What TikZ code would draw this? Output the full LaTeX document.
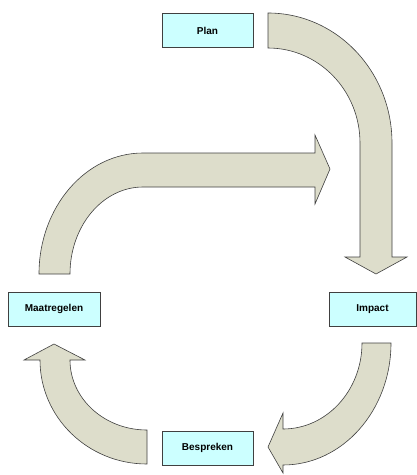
\documentclass[tikz,border=0pt]{standalone}
\usepackage{fontspec}
\setmainfont{Liberation Sans}
\definecolor{boxfill}{HTML}{CCFFFF}
\definecolor{arrowfill}{HTML}{DDDDCB}
\definecolor{edge}{HTML}{404040}
\begin{document}
\begin{tikzpicture}[x=1pt,y=-1pt,
  stagebox/.style={draw=edge,line width=0.7pt,fill=boxfill,minimum height=34pt,inner sep=0pt,font=\bfseries\fontsize{10}{12}\selectfont},
  bigarrow/.style={draw=edge,line width=0.6pt,fill=arrowfill,line join=miter}]
\useasboundingbox (0,0) rectangle (417,475);
% boxes
\node[stagebox,minimum width=91pt] (plan) at (207.5,30.5) {Plan};
\node[stagebox,minimum width=92pt] (maat) at (54,309) {Maatregelen};
\node[stagebox,minimum width=87pt] (impact) at (372.5,309) {Impact};
\node[stagebox,minimum width=91pt] (besp) at (207.5,448) {Bespreken};
% arrow Plan -> Impact
\draw[bigarrow] (268,13) .. controls (336.5,13) and (392,71.2) .. (392,143)
  -- (392,257) -- (407,257) -- (376,274) -- (345,257) -- (360,257) -- (360,143)
  .. controls (360,90.5) and (318.8,48) .. (268,48) -- cycle;
% arrow Maatregelen -> top
\draw[bigarrow] (39,274) .. controls (39,207.2) and (85.6,153) .. (143,153)
  -- (315,153) -- (315,135) -- (330,169) -- (315,204) -- (315,187) -- (143,187)
  .. controls (102.7,187) and (70,226) .. (70,274) -- cycle;
% arrow Impact -> Bespreken
\draw[bigarrow] (391,343) .. controls (391,410.4) and (342.6,465) .. (283,465)
  -- (283,473) -- (268,447) -- (283,413) -- (283,429)
  .. controls (326.6,429) and (362,390.5) .. (362,343) -- cycle;
% arrow Bespreken -> Maatregelen
\draw[bigarrow] (147,464) .. controls (87.9,464) and (40,417.4) .. (40,360)
  -- (24,360) -- (54,344) -- (85,360) -- (70,360)
  .. controls (70,398.7) and (104.5,430) .. (147,430) -- cycle;
\end{tikzpicture}
\end{document}
